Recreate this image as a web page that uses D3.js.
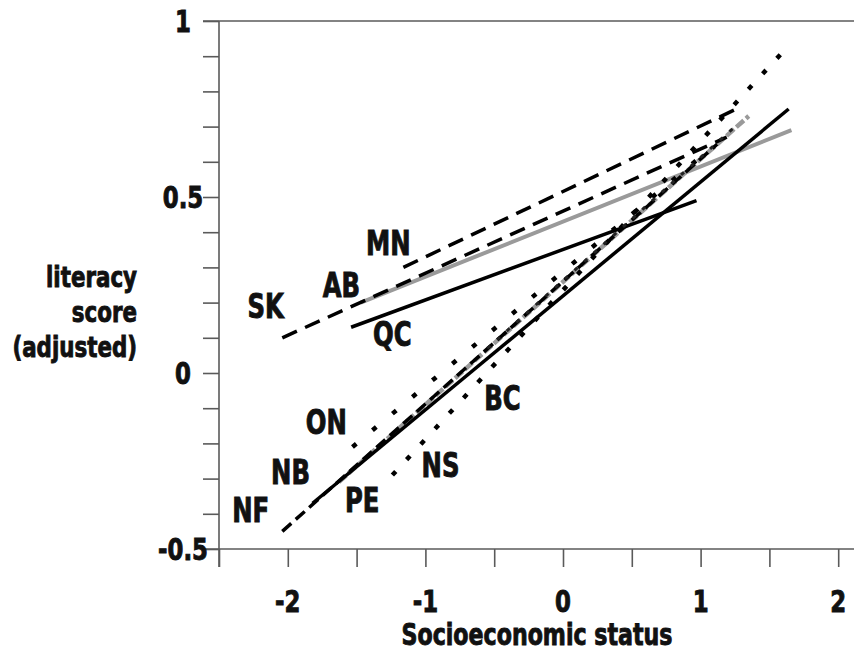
<!DOCTYPE html>
<html>
<head>
<meta charset="utf-8">
<script src="https://cdn.jsdelivr.net/npm/d3@7"></script>
<style>
  html, body { margin: 0; padding: 0; background: #fff; }
  svg { display: block; }
  text { font-family: 'DejaVu Sans Condensed', 'DejaVu Sans', sans-serif; font-weight: bold; fill: #111; stroke: #111; stroke-width: 0.9px; }
</style>
</head>
<body>
<svg id="chart" width="854" height="652"></svg>
<script>
// ---- data ----
const provinces   = ["NF", "PE", "NS", "NB", "QC", "ON", "MN", "SK", "AB", "BC"];
const sesStart    = [-2.04, -1.63, -1.24, -1.82, -1.54, -1.53, -1.16, -2.04, -1.47, -0.55];
const sesEnd      = [ 1.12,  1.35,  1.64,  1.64,  0.97,  1.08,  1.26,  1.19,  1.66,  1.25];
const scoreStart  = [-0.45, -0.31, -0.29, -0.37,  0.13, -0.21,  0.30,  0.10,  0.20,  0.07];
const scoreEnd    = [ 0.65,  0.73,  0.93,  0.75,  0.49,  0.64,  0.75,  0.67,  0.69,  0.70];
// label anchor positions (data units)
const labelSes    = [-2.27, -1.46, -0.89, -1.98, -1.24, -1.72, -1.27, -2.16, -1.61, -0.44];
const labelScore  = [-0.39, -0.36, -0.26, -0.28,  0.11, -0.14,  0.37,  0.19,  0.25, -0.07];

const xTickValues = [-2.5, -2, -1.5, -1, -0.5, 0, 0.5, 1, 1.5, 2];
const xTickLabels = ["-2", "-1", "0", "1", "2"];
const yTickLabels = ["1", "0.5", "0", "-0.5"];
const xTitle = "Socioeconomic status";
const yTitle = ["literacy", "score", "(adjusted)"];

// ---- styles (kept apart from data) ----
const styles = {
  NF: { color: "#000", width: 3.5, dash: "12,6" },
  PE: { color: "#9a9a9a", width: 4.5, dash: "10,3" },
  NS: { color: "#000", width: 4.5, dash: "5,16" },
  NB: { color: "#000", width: 3.5, dash: null },
  QC: { color: "#000", width: 3.5, dash: null },
  ON: { color: "#000", width: 4.5, dash: "5,21" },
  MN: { color: "#000", width: 3.5, dash: "16,9" },
  SK: { color: "#000", width: 3.5, dash: "16,9" },
  AB: { color: "#9a9a9a", width: 4, dash: null },
  BC: { color: "#222", width: 3, dash: "4,9" }
};
const condense = 0.82;

const svg = d3.select("#chart");
const x = d3.scaleLinear().domain([-2.5, 2.5]).range([219, 907]);
const y = d3.scaleLinear().domain([-0.5, 1]).range([549, 21]);

function addText(sel, tx, ty, anchor, size, str) {
  return sel.append("text")
    .attr("transform", `translate(${tx},${ty}) scale(${condense},1)`)
    .attr("text-anchor", anchor).attr("font-size", size).text(str);
}

// frame lines
const axisColor = "#5a5a5a";
svg.append("line").attr("x1", 203).attr("x2", 854).attr("y1", y(1)).attr("y2", y(1))
  .attr("stroke", axisColor).attr("stroke-width", 1.6);
svg.append("line").attr("x1", 203).attr("x2", 854).attr("y1", y(-0.5)).attr("y2", y(-0.5))
  .attr("stroke", axisColor).attr("stroke-width", 1.6);
svg.append("line").attr("x1", x(-2.5)).attr("x2", x(-2.5)).attr("y1", y(1)).attr("y2", y(-0.5) + 18)
  .attr("stroke", axisColor).attr("stroke-width", 1.6);

// y axis ticks (left)
const yAxis = d3.axisLeft(y).tickValues(d3.range(-5, 11).map(d => d / 10)).tickSize(16).tickFormat("");
const gy = svg.append("g").attr("transform", `translate(${x(-2.5)},0)`).call(yAxis);
gy.select(".domain").remove();
gy.selectAll(".tick line").attr("stroke", axisColor).attr("stroke-width", 1.6);

// x axis ticks (down)
const xAxis = d3.axisBottom(x).tickValues(xTickValues).tickSize(18).tickFormat("");
const gx = svg.append("g").attr("transform", `translate(0,${y(-0.5)})`).call(xAxis);
gx.select(".domain").remove();
gx.selectAll(".tick line").attr("stroke", axisColor).attr("stroke-width", 1.6);

// tick labels
xTickLabels.forEach(d => addText(svg, x(+d), 612, "middle", 31, d));
yTickLabels.forEach(d => addText(svg, 183, y(+d) + 11, "middle", 31, d));

// axis titles
addText(svg, 537, 645, "middle", 30, xTitle);
yTitle.forEach((d, i) => addText(svg, 137, 287 + i * 35, "end", 29, d));

// regression lines
const lines = provinces.map((p, i) => ({
  p, pts: [[sesStart[i], scoreStart[i]], [sesEnd[i], scoreEnd[i]]]
}));
const lineGen = d3.line().x(d => x(d[0])).y(d => y(d[1]));
const order = ["AB", "PE", "QC", "NB", "SK", "MN", "NF", "ON", "NS", "BC"];
order.forEach(p => {
  const l = lines.find(d => d.p === p);
  const s = styles[p];
  svg.append("path").attr("d", lineGen(l.pts)).attr("fill", "none")
    .attr("stroke", s.color).attr("stroke-width", s.width)
    .attr("stroke-dasharray", s.dash).attr("stroke-linecap", "butt");
});

// province labels
provinces.forEach((p, i) => addText(svg, x(labelSes[i]), y(labelScore[i]) + 12, "middle", 33, p));
</script>
</body>
</html>
